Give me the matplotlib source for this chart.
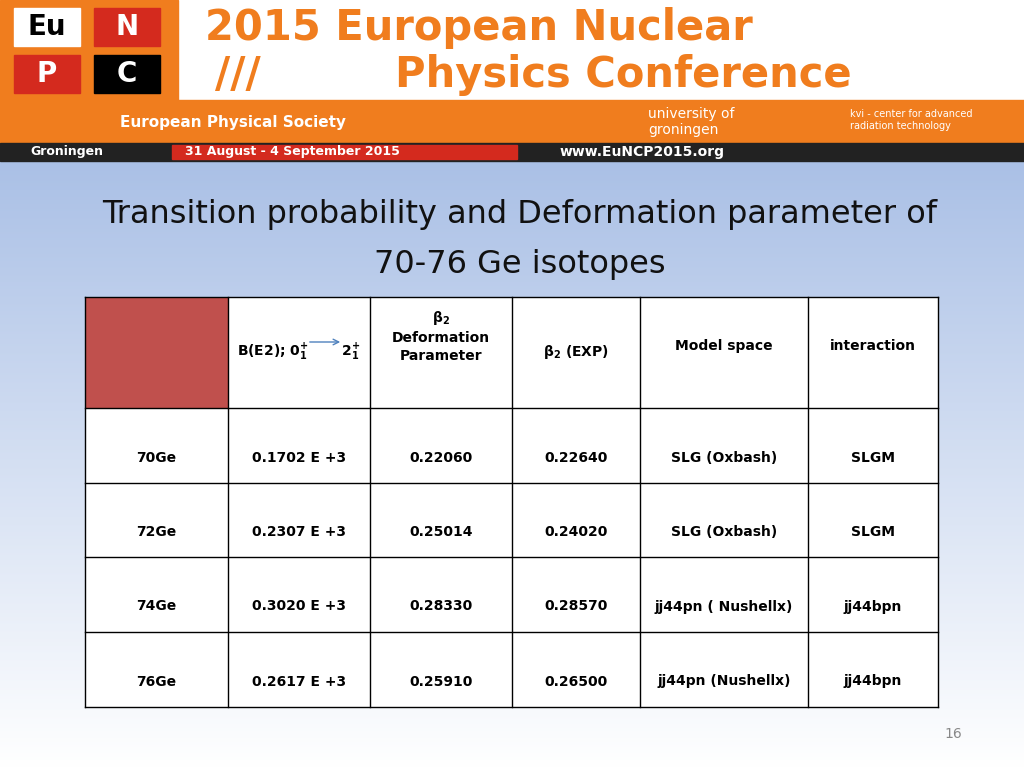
import matplotlib
matplotlib.use("Agg")
import matplotlib.pyplot as plt
from matplotlib.patches import Rectangle
from matplotlib.colors import LinearSegmentedColormap
import numpy as np

isotopes = ["70Ge", "72Ge", "74Ge", "76Ge"]
be2 = ["0.1702 E +3", "0.2307 E +3", "0.3020 E +3", "0.2617 E +3"]
beta2 = ["0.22060", "0.25014", "0.28330", "0.25910"]
beta2_exp = ["0.22640", "0.24020", "0.28570", "0.26500"]
model_space = ["SLG (Oxbash)", "SLG (Oxbash)", "jj44pn ( Nushellx)", "jj44pn (Nushellx)"]
interaction = ["SLGM", "SLGM", "jj44bpn", "jj44bpn"]

fig = plt.figure(figsize=(10.24, 7.68), dpi=100)
ax = fig.add_axes([0, 0, 1, 1])
ax.set_xlim(0, 1024); ax.set_ylim(768, 0); ax.axis("off")

grad = np.linspace(0, 1, 256).reshape(-1, 1)
cm = LinearSegmentedColormap.from_list("g", ["#aac0e6", "#ffffff"])
ax.imshow(grad, extent=[0, 1024, 768, 160], cmap=cm, aspect="auto", zorder=0)

# banner
ax.add_patch(Rectangle((0, 0), 1024, 100, color="white", zorder=1))
ax.add_patch(Rectangle((0, 0), 178, 100, color="#f07d1e", zorder=1))
for (x, y, c, t, tc) in [(14, 8, "white", "Eu", "black"), (94, 8, "#d42a1e", "N", "white"),
                         (14, 55, "#d42a1e", "P", "white"), (94, 55, "black", "C", "white")]:
    ax.add_patch(Rectangle((x, y), 66, 38, color=c, zorder=2))
    ax.text(x + 33, y + 19, t, ha="center", va="center", fontsize=20, weight="bold", color=tc, zorder=3)
ax.text(205, 28, "2015 European Nuclear", fontsize=30, weight="bold", color="#f07d1e", va="center", zorder=3)
ax.text(395, 75, "Physics Conference", fontsize=30, weight="bold", color="#f07d1e", va="center", zorder=3)
ax.text(215, 75, "///", fontsize=30, weight="bold", color="#f07d1e", va="center", zorder=3)
ax.add_patch(Rectangle((0, 100), 1024, 43, color="#f07d1e", zorder=1))
ax.text(120, 122, "European Physical Society", fontsize=11, weight="bold", color="white", va="center", zorder=3)
ax.text(648, 122, "university of\ngroningen", fontsize=10, color="white", va="center", zorder=3)
ax.text(850, 120, "kvi - center for advanced\nradiation technology", fontsize=7, color="white", va="center", zorder=3)
ax.add_patch(Rectangle((0, 143), 1024, 18, color="#222222", zorder=1))
ax.add_patch(Rectangle((172, 145), 345, 14, color="#d42a1e", zorder=2))
ax.text(30, 152, "Groningen", fontsize=9, weight="bold", color="white", va="center", zorder=3)
ax.text(185, 152, "31 August - 4 September 2015", fontsize=9, weight="bold", color="white", va="center", zorder=3)
ax.text(560, 152, "www.EuNCP2015.org", fontsize=10, weight="bold", color="white", va="center", zorder=3)

# title
ax.text(520, 215, "Transition probability and Deformation parameter of", fontsize=23,
        ha="center", va="center", color="#111111", zorder=3)
ax.text(520, 265, "70-76 Ge isotopes", fontsize=23, ha="center", va="center", color="#111111", zorder=3)

# table
cols = [85, 228, 370, 512, 640, 808, 938]
rows = [297, 408, 483, 557, 632, 707]
ax.add_patch(Rectangle((cols[0], rows[0]), cols[-1] - cols[0], rows[-1] - rows[0],
                       facecolor="white", edgecolor="none", zorder=2))
ax.add_patch(Rectangle((cols[0], rows[0]), cols[1] - cols[0], rows[1] - rows[0],
                       facecolor="#c0504d", edgecolor="none", zorder=2))
for x in cols:
    ax.plot([x, x], [rows[0], rows[-1]], color="black", lw=1, zorder=4)
for y in rows:
    ax.plot([cols[0], cols[-1]], [y, y], color="black", lw=1, zorder=4)

kw = dict(ha="center", va="center", fontsize=10, weight="bold", color="black", zorder=5)
ax.text(299, 352, r"B(E2); 0$_\mathbf{1}^\mathbf{+}$       2$_\mathbf{1}^\mathbf{+}$", **kw)
ax.annotate("", xy=(343, 342), xytext=(307, 342),
            arrowprops=dict(arrowstyle="->", color="#4f81bd", lw=1), zorder=5)
ax.text(441, 336, r"β$_\mathbf{2}$" + "\nDeformation\nParameter", linespacing=1.4, **kw)
ax.text(576, 352, r"β$_\mathbf{2}$ (EXP)", **kw)
ax.text(724, 346, "Model space", **kw)
ax.text(873, 346, "interaction", **kw)

for i in range(4):
    yc = (rows[i + 1] + rows[i + 2]) / 2 + 12
    for j, v in enumerate([isotopes[i], be2[i], beta2[i], beta2_exp[i], model_space[i], interaction[i]]):
        ax.text((cols[j] + cols[j + 1]) / 2, yc, v, **kw)

ax.text(953, 734, "16", fontsize=10, color="#888888", ha="center", va="center", zorder=3)
fig.savefig("out.png", dpi=100)
